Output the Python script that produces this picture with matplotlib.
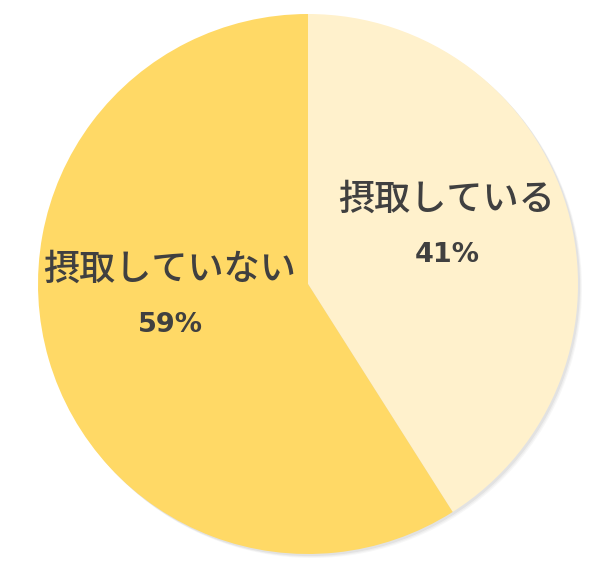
import matplotlib
matplotlib.use("Agg")
import matplotlib.pyplot as plt
from matplotlib.patches import Circle

plt.rcParams['font.family'] = ['Noto Sans CJK JP', 'DejaVu Sans']

categories = ["摂取している", "摂取していない"]
values = [41, 59]
pct_labels = ["41%", "59%"]
colors = ["#FFF1CC", "#FFD966"]

fig = plt.figure(figsize=(6, 5.67), dpi=100)
ax = fig.add_axes([0, 0, 1, 1])
ax.set_xlim(0, 600)
ax.set_ylim(0, 567)
ax.set_aspect('equal')
ax.axis('off')

cx, cy, r = 308, 283, 270
# subtle shadow
for i, a in enumerate([0.10, 0.08, 0.06]):
    ax.add_patch(Circle((cx + 2 + i, cy - 2 - i), r, color='#808080', alpha=a, zorder=0, lw=0))

ax.pie(values, colors=colors, startangle=90, counterclock=False,
       center=(cx, cy), radius=r, frame=True,
       wedgeprops=dict(linewidth=0, zorder=1))
ax.set_xlim(0, 600)
ax.set_ylim(0, 567)
ax.axis('off')

txt_color = '#404040'
label_pos = [(447, 200, 255), (170, 270, 325)]
for (x, y1, y2), cat, p in zip(label_pos, categories, pct_labels):
    ax.text(x, 567 - y1, cat, ha='center', va='center', fontsize=26,
            color=txt_color, fontweight='medium', zorder=3)
    ax.text(x, 567 - y2, p, ha='center', va='center', fontsize=19.5,
            color=txt_color, fontweight='bold', zorder=3,
            family=['DejaVu Sans'])

fig.savefig('out.png', dpi=100)
